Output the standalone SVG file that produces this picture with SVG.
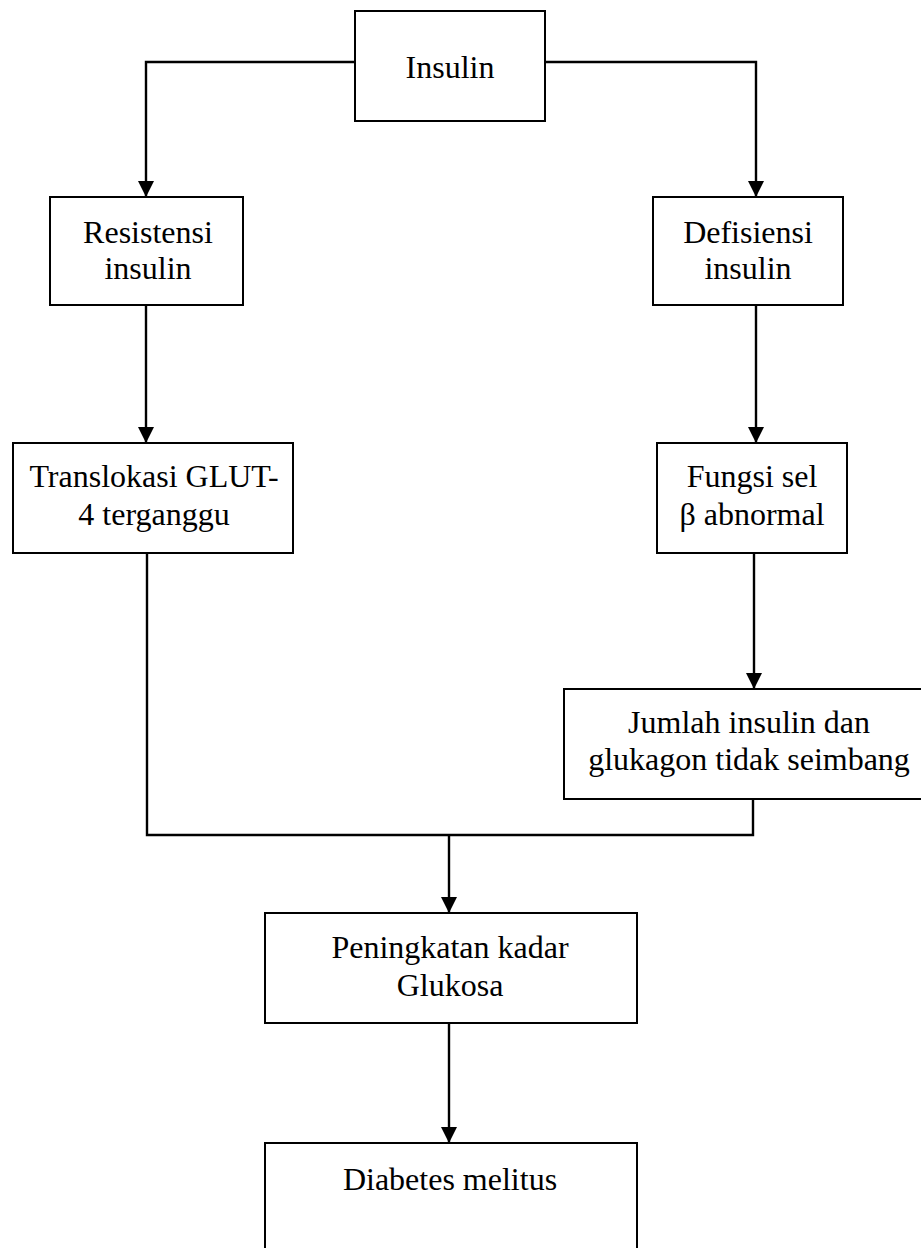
<svg xmlns="http://www.w3.org/2000/svg" width="921" height="1248" viewBox="0 0 921 1248">
<style>
.box{fill:#fff;stroke:#000;stroke-width:2}
.lbl{font-family:"Liberation Serif","Times New Roman",serif;font-size:32px;fill:#000;text-anchor:middle}
.con{fill:none;stroke:#000;stroke-width:2.4}
.arr{fill:none;stroke:#000;stroke-width:2.4;marker-end:url(#ah)}
</style>
<defs>
<marker id="ah" markerWidth="16" markerHeight="16" refX="16" refY="8" orient="auto" markerUnits="userSpaceOnUse">
<path d="M0,0 L16,8 L0,16 Z" fill="#000"/>
</marker>
</defs>
<rect width="921" height="1248" fill="#fff"/>
<g id="connectors">
<polyline class="arr" points="357,62 146,62 146,197"/>
<polyline class="arr" points="545,62 756,62 756,197"/>
<line class="arr" x1="146" y1="305" x2="146" y2="443"/>
<line class="arr" x1="756" y1="305" x2="756" y2="443"/>
<line class="arr" x1="754" y1="553" x2="754" y2="689"/>
<polyline class="con" points="147,553 147,835 753,835 753,799"/>
<line class="arr" x1="449" y1="835" x2="449" y2="913"/>
<line class="arr" x1="449" y1="1023" x2="449" y2="1143"/>
</g>
<g id="insulin">
<rect class="box" x="355" y="11" width="190" height="110"/>
<text class="lbl" x="450" y="78">Insulin</text>
</g>
<g id="resistensi">
<rect class="box" x="50" y="197" width="193" height="108"/>
<text class="lbl" x="148" y="243">Resistensi</text>
<text class="lbl" x="148" y="279">insulin</text>
</g>
<g id="defisiensi">
<rect class="box" x="653" y="197" width="190" height="108"/>
<text class="lbl" x="748" y="243">Defisiensi</text>
<text class="lbl" x="748" y="279">insulin</text>
</g>
<g id="translokasi">
<rect class="box" x="13" y="443" width="280" height="110"/>
<text class="lbl" x="154" y="487">Translokasi GLUT-</text>
<text class="lbl" x="154" y="525">4 terganggu</text>
</g>
<g id="fungsi">
<rect class="box" x="657" y="443" width="190" height="110"/>
<text class="lbl" x="752" y="487">Fungsi sel</text>
<text class="lbl" x="752" y="525">β abnormal</text>
</g>
<g id="jumlah">
<rect class="box" x="564" y="689" width="372" height="110"/>
<text class="lbl" x="749" y="733">Jumlah insulin dan</text>
<text class="lbl" x="749" y="770">glukagon tidak seimbang</text>
</g>
<g id="peningkatan">
<rect class="box" x="265" y="913" width="372" height="110"/>
<text class="lbl" x="450" y="958">Peningkatan kadar</text>
<text class="lbl" x="450" y="996">Glukosa</text>
</g>
<g id="diabetes">
<rect class="box" x="265" y="1143" width="372" height="130"/>
<text class="lbl" x="450" y="1190">Diabetes melitus</text>
</g>
</svg>
